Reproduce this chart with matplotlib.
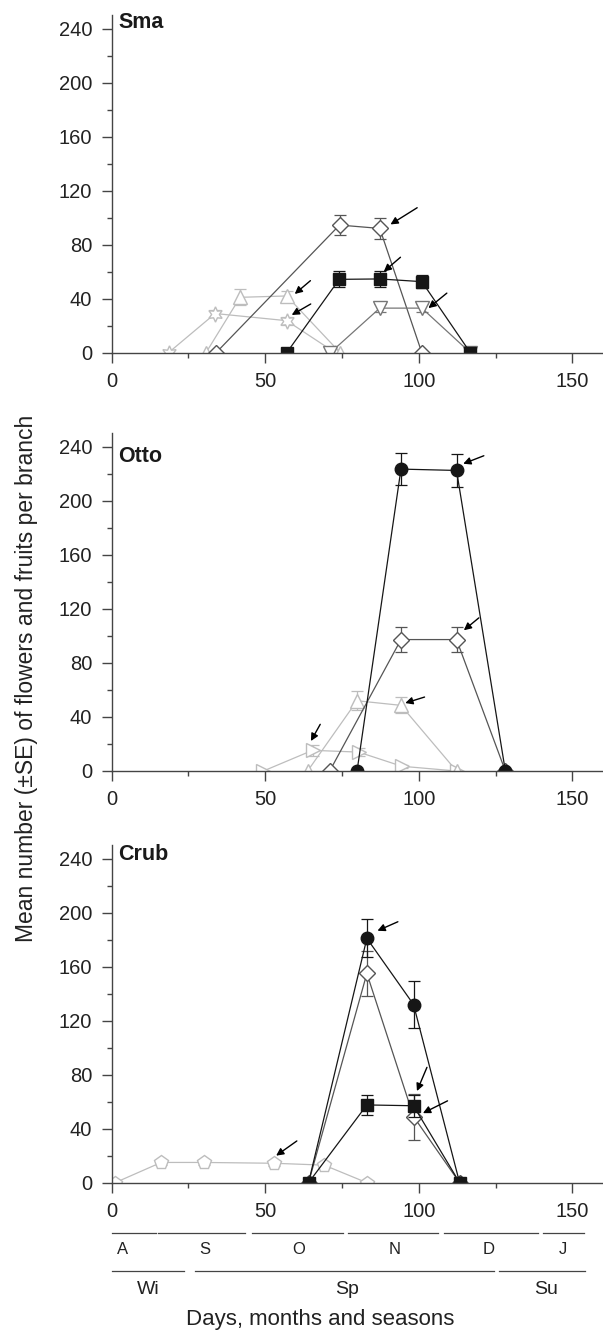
import numpy as np
import matplotlib
matplotlib.use("Agg")
import matplotlib.pyplot as plt
from matplotlib.transforms import blended_transform_factory, offset_copy

plt.rcParams['font.family'] = ['Liberation Sans', 'DejaVu Sans']

# ---------------- data ----------------
# Sma
sma_star_x = [18.5, 33.7, 57.0, 72.8]
sma_star_y = [0, 29, 23.7, 0]
sma_star_se = [0, 2.5, 3, 0]
sma_up_x = [30.7, 41.8, 57.0, 74.4]
sma_up_y = [0, 41, 42, 0]
sma_up_se = [0, 6, 4, 0]
sma_dia_x = [34.0, 74.2, 87.3, 101.0]
sma_dia_y = [0, 94.5, 92, 0]
sma_dia_se = [0, 7.5, 8, 0]
sma_down_x = [71.2, 87.3, 101.0, 116.8]
sma_down_y = [0, 33, 33, 0]
sma_down_se = [0, 3, 3, 0]
sma_sq_x = [57.0, 74.1, 87.3, 101.0, 116.8]
sma_sq_y = [0, 54.3, 54.6, 52.6, 0]
sma_sq_se = [0, 6, 6, 5, 0]

# Otto
otto_right_x = [49.4, 65.4, 80.4, 94.5, 112.3]
otto_right_y = [0, 15.3, 14, 3.5, 0]
otto_right_se = [0, 4, 3, 1, 0]
otto_up_x = [63.8, 79.9, 94.2, 112.3]
otto_up_y = [0, 52, 48.6, 0]
otto_up_se = [0, 7, 6, 0]
otto_dia_x = [71.0, 94.2, 112.3, 128.2]
otto_dia_y = [0, 97.3, 97.3, 0]
otto_dia_se = [0, 9, 9.5, 0]
otto_circ_x = [79.9, 94.2, 112.3, 128.2]
otto_circ_y = [0, 223.5, 222.5, 0]
otto_circ_se = [0, 12, 12, 0]

# Crub
crub_pent_x = [1.1, 16.1, 30.1, 52.9, 69.2, 83.1]
crub_pent_y = [0, 15, 15, 14.4, 13, 0]
crub_pent_se = [0, 2, 2, 2, 2, 0]
crub_dia_x = [64.1, 83.1, 98.3, 113.3]
crub_dia_y = [0, 155, 49, 0]
crub_dia_se = [0, 17, 17, 0]
crub_sq_x = [64.1, 83.1, 98.3, 113.3]
crub_sq_y = [0, 57.6, 57, 0]
crub_sq_se = [0, 7.5, 8, 0]
crub_circ_x = [64.1, 83.1, 98.3, 113.3]
crub_circ_y = [0, 181, 132, 0]
crub_circ_se = [0, 14, 17.5, 0]

panel_names = ['Sma', 'Otto', 'Crub']

months = ['A', 'S', 'O', 'N', 'D', 'J']
month_start = [0, 15.2, 45.6, 76.8, 108.3, 140.4]
month_end = [14.3, 43.5, 75.2, 106.3, 138.8, 153.8]
month_label_x = [3.5, 30.2, 61, 92, 122.8, 147]
seasons = ['Wi', 'Sp', 'Su']
season_start = [0, 27, 126]
season_end = [23.7, 124.4, 154]
season_label_x = [12, 76.6, 141.6]

# ---------------- styles ----------------
BLACK = '#161616'
DARK = '#555555'
MID = '#767676'
LIGHT = '#bdbdbd'
SPINE = '#444444'

W, H = 603, 1336
fig = plt.figure(figsize=(W / 100, H / 100), dpi=100)

def px_axes(left, top, right, bottom):
    return fig.add_axes([left / W, 1 - bottom / H, (right - left) / W, (bottom - top) / H])

axes = [px_axes(111.7, 15, 603, 352.7),
        px_axes(111.7, 433.3, 603, 771),
        px_axes(111.7, 845.2, 603, 1182.7)]

def series(ax, x, y, se, marker, color, ms, filled, lw=0.9, z=3):
    x = np.asarray(x, float); y = np.asarray(y, float); se = np.asarray(se, float)
    ax.plot(x, y, '-', color=color, lw=lw, zorder=z)
    m = se > 0
    ax.errorbar(x[m], y[m], yerr=se[m], fmt='none', ecolor=color, elinewidth=0.9,
                capsize=4, capthick=0.9, zorder=z + 0.1)
    ax.plot(x, y, linestyle='none', marker=marker, ms=ms,
            mfc=color if filled else 'white', mec=color, mew=1.0, zorder=z + 0.2,
            clip_on=True)
    return x, y

def arrow(ax, x, y, hdx, hdy, tdx, tdy):
    tr = offset_copy(ax.transData, fig=fig, x=hdx, y=hdy, units='dots')
    ax.annotate('', xy=(x, y), xycoords=tr, xytext=(tdx, tdy), textcoords='offset pixels',
                arrowprops=dict(arrowstyle='-|>', color='black', lw=1.0,
                                mutation_scale=11, shrinkA=0, shrinkB=0),
                annotation_clip=False, zorder=10)

HEX = (6, 1, 0)

ax = axes[0]
series(ax, sma_star_x, sma_star_y, sma_star_se, HEX, LIGHT, 11, False, z=2)
series(ax, sma_up_x, sma_up_y, sma_up_se, '^', LIGHT, 10, False, z=2)
series(ax, sma_dia_x, sma_dia_y, sma_dia_se, 'D', DARK, 8, False, z=3)
series(ax, sma_down_x, sma_down_y, sma_down_se, 'v', MID, 10, False, z=3)
series(ax, sma_sq_x, sma_sq_y, sma_sq_se, 's', BLACK, 8.5, True, z=4)
arrow(ax, sma_dia_x[2], sma_dia_y[2], 10.7, 4, 26.7, 16.7)
arrow(ax, sma_sq_x[2], sma_sq_y[2], 4, 7.3, 16.7, 14.4)
arrow(ax, sma_up_x[2], sma_up_y[2], 8, 2, 15.7, 13.3)
arrow(ax, sma_star_x[2], sma_star_y[2], 5, 5.7, 19, 11)
arrow(ax, sma_down_x[2], sma_down_y[2], 6.6, 0, 18.4, 15)

ax = axes[1]
series(ax, otto_right_x, otto_right_y, otto_right_se, '>', LIGHT, 10, False, z=2)
series(ax, otto_up_x, otto_up_y, otto_up_se, '^', LIGHT, 10, False, z=2)
series(ax, otto_dia_x, otto_dia_y, otto_dia_se, 'D', DARK, 8, False, z=3)
series(ax, otto_circ_x, otto_circ_y, otto_circ_se, 'o', BLACK, 9, True, z=4)
arrow(ax, otto_circ_x[2], otto_circ_y[2], 6.7, 6.7, 20.6, 8)
arrow(ax, otto_dia_x[2], otto_dia_y[2], 7.3, 9.3, 15, 12.4)
arrow(ax, otto_up_x[2], otto_up_y[2], 4.3, 2.3, 19.3, 6)
arrow(ax, otto_right_x[1], otto_right_y[1], -1.6, 9.3, 9.3, 16.7)

ax = axes[2]
series(ax, crub_pent_x, crub_pent_y, crub_pent_se, 'p', LIGHT, 10, False, z=2)
series(ax, crub_dia_x, crub_dia_y, crub_dia_se, 'D', DARK, 8, False, z=3)
series(ax, crub_sq_x, crub_sq_y, crub_sq_se, 's', BLACK, 8.5, True, z=4)
series(ax, crub_circ_x, crub_circ_y, crub_circ_se, 'o', BLACK, 9, True, z=4)
arrow(ax, crub_circ_x[1], crub_circ_y[1], 10.6, 7.6, 20.4, 9)
arrow(ax, crub_sq_x[2], crub_sq_y[2], 3.4, 14.7, 10, 23.7)
arrow(ax, crub_dia_x[2], crub_dia_y[2], 9.4, 3.4, 24.6, 12.3)
arrow(ax, crub_pent_x[3], crub_pent_y[3], 2, 7.6, 20.7, 14.7)

title_y = [240.5, 229, 239]
for ax, name, ty in zip(axes, panel_names, title_y):
    ax.set_xlim(0, 160)
    ax.set_ylim(0, 250)
    ax.set_xticks([0, 50, 100, 150])
    ax.set_xticks([25, 75, 125], minor=True)
    ax.set_yticks(np.arange(0, 241, 40))
    ax.set_yticks(np.arange(20, 241, 40), minor=True)
    for s in ['top', 'right']:
        ax.spines[s].set_visible(False)
    for s in ['left', 'bottom']:
        ax.spines[s].set_color(SPINE)
        ax.spines[s].set_linewidth(1.0)
        ax.spines[s].set_zorder(6)
    ax.tick_params(which='major', length=7, width=1.0, color=SPINE, labelsize=14.5,
                   labelcolor='#222222', pad=7)
    ax.tick_params(which='minor', length=3.5, width=1.0, color=SPINE)
    ax.text(2.2, ty, name, fontsize=15.5, fontweight='bold', color='#1a1a1a',
            ha='left', va='baseline')

# month / season bars under the bottom panel
ax = axes[2]
tr = blended_transform_factory(ax.transData, fig.transFigure)
def fy(p):
    return 1 - p / H
for s, e in zip(month_start, month_end):
    ax.plot([s, e], [fy(1232.7)] * 2, color='#444444', lw=0.9, transform=tr, clip_on=False)
for name, x in zip(months, month_label_x):
    ax.text(x, fy(1249), name, transform=tr, ha='center', va='center', fontsize=12, color='#222222')
for s, e in zip(season_start, season_end):
    ax.plot([s, e], [fy(1270.7)] * 2, color='#444444', lw=0.9, transform=tr, clip_on=False)
for name, x in zip(seasons, season_label_x):
    ax.text(x, fy(1289), name, transform=tr, ha='center', va='center', fontsize=14, color='#222222')

fig.text(320 / W, fy(1320), 'Days, months and seasons', ha='center', va='center',
         fontsize=16, color='#222222')
fig.text(27 / W, fy(678), 'Mean number (\u00b1SE) of flowers and fruits per branch',
         rotation=90, ha='center', va='center', fontsize=16.5, color='#222222')

fig.savefig('out.png', dpi=100)
